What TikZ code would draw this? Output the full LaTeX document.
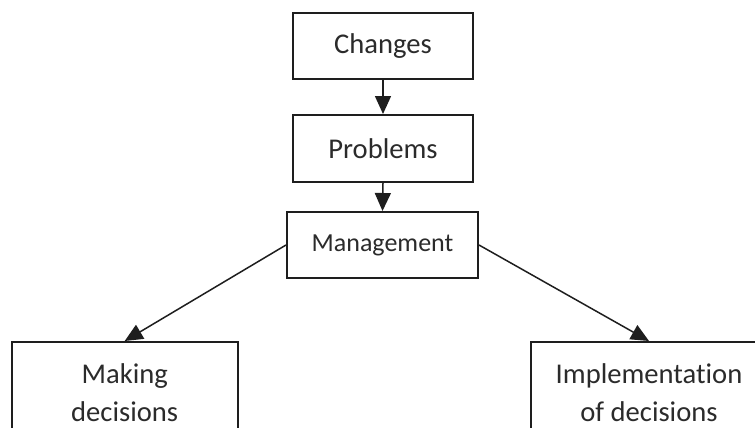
\documentclass[tikz,border=0pt]{standalone}
\usepackage{fontspec}
\setmainfont{Carlito}[Ligatures=NoCommon]
\usepackage{tikz}
\usetikzlibrary{arrows.meta,positioning}
\definecolor{ink}{HTML}{1E1E1E}
\definecolor{txt}{HTML}{2B2B2B}

\begin{document}
\begin{tikzpicture}[x=0.5pt,y=-0.5pt,
  box/.style={draw=ink,line width=1pt,fill=white,align=center,text=txt,
              inner sep=0pt,font=\fontsize{14.3}{19}\selectfont},
  link/.style={draw=ink,line width=0.75pt,-{Triangle[length=9pt,width=8pt]}},
]
  \useasboundingbox (0,0) rectangle (755,428);
  \clip (0,0) rectangle (755,428);
  \node[box,minimum width=90pt,minimum height=33pt] (changes) at (383,46) {Changes};
  \node[box,minimum width=90pt,minimum height=33.5pt] (problems) at (383,148.5) {Problems};
  \node[box,minimum width=95.5pt,minimum height=33pt,
        font=\fontsize{13}{16}\selectfont] (mgmt) at (382.5,245) {Management};
  % lower boxes run past the page edge
  \node[box,anchor=north,minimum width=113pt,minimum height=51pt] (making) at (124.7,341)
    {Making\\decisions};
  \node[box,anchor=north,minimum width=118pt,minimum height=51pt] (impl) at (649,341)
    {Implementation\\of decisions};
  \draw[link] (changes.south) -- (problems.north);
  \draw[link] (problems.south) -- (mgmt.north);
  \draw[link] (mgmt.west) -- (making.north);
  \draw[link] (mgmt.east) -- (impl.north);
\end{tikzpicture}
\end{document}
